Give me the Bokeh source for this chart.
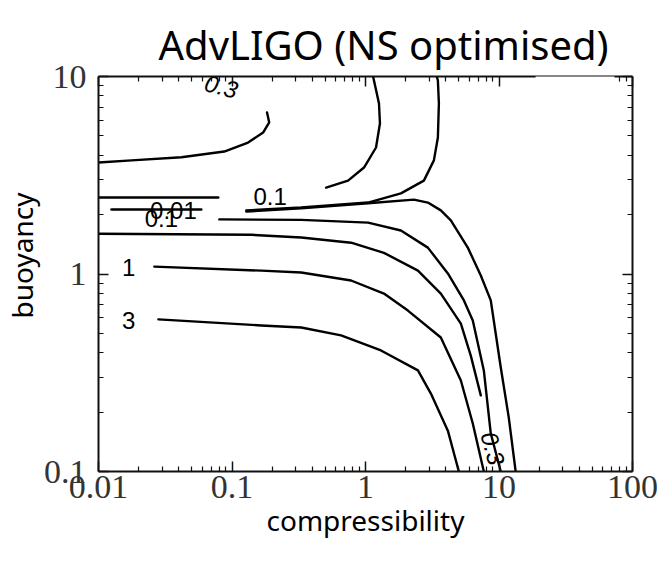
from bokeh.plotting import figure
from bokeh.models import LogAxis, FixedTicker, BoxAnnotation, Range1d, Title
from bokeh.core.properties import value
from bokeh.embed import file_html
from bokeh.resources import INLINE

# ---- tick values / labels ----
x_ticks = [0.01, 0.1, 1, 10, 100]
x_tick_labels = ["0.01", "0.1", "1", "10", "100"]
y_ticks = [0.1, 1, 10]
y_tick_labels = ["0.1", "1", "10"]

# ---- contour lines (compressibility, buoyancy) ----
top03_x = [0.01, 0.0177, 0.0418, 0.0875, 0.132, 0.171, 0.190, 0.183]
top03_y = [3.67, 3.76, 3.90, 4.17, 4.63, 5.20, 5.85, 6.57]

mid03_x = [0.507, 0.740, 0.975, 1.199, 1.283, 1.262, 1.140]
mid03_y = [2.74, 2.97, 3.46, 4.37, 5.78, 7.30, 10.0]

up01_x = [0.128, 0.330, 1.045, 1.842, 2.737, 3.253, 3.485, 3.546, 3.485, 3.42]
up01_y = [2.10, 2.17, 2.30, 2.56, 2.97, 3.76, 4.91, 7.30, 9.54, 10.0]

down01_x = [0.128, 0.330, 1.045, 2.305, 2.931, 3.667, 4.357, 5.838, 7.306, 8.675, 10.31, 11.83, 13.33]
down01_y = [2.07, 2.15, 2.28, 2.38, 2.30, 2.10, 1.87, 1.36, 0.983, 0.735, 0.336, 0.188, 0.1]

c01_x = [0.0803, 0.330, 1.045, 1.842, 2.931, 4.139, 5.46, 6.363, 7.698, 8.675, 10.31]
c01_y = [1.89, 1.88, 1.82, 1.66, 1.36, 1.006, 0.735, 0.582, 0.325, 0.156, 0.1]

c03_x = [0.01, 0.139, 0.330, 0.780, 1.374, 2.470, 3.667, 5.180, 6.146, 7.306]
c03_y = [1.60, 1.58, 1.53, 1.44, 1.28, 1.04, 0.796, 0.561, 0.386, 0.243]

c1_x = [0.0262, 0.166, 0.330, 0.780, 1.374, 2.078, 3.667, 5.180, 6.363, 7.698]
c1_y = [1.09, 1.04, 1.018, 0.927, 0.796, 0.653, 0.477, 0.289, 0.175, 0.1]

c3_x = [0.0281, 0.166, 0.330, 0.656, 1.306, 2.470, 3.089, 4.139, 5.003]
c3_y = [0.589, 0.549, 0.536, 0.489, 0.410, 0.325, 0.248, 0.161, 0.1]

short1_x = [0.01, 0.0789]
short1_y = [2.44, 2.44]
short2_x = [0.0125, 0.0589]
short2_y = [2.12, 2.12]

lines = [
    (top03_x, top03_y), (mid03_x, mid03_y), (up01_x, up01_y), (down01_x, down01_y),
    (c01_x, c01_y), (c03_x, c03_y), (c1_x, c1_y), (c3_x, c3_y),
    (short1_x, short1_y), (short2_x, short2_y),
]

# ---- contour labels ----
lab_text = ["0.01", "0.1", "0.1", "1", "3"]
lab_x = [0.0364, 0.0296, 0.193, 0.0168, 0.0168]
lab_y = [2.10, 1.91, 2.47, 1.08, 0.582]
ital_text = ["0.3", "0.3"]
ital_x = [0.0832, 8.98]
ital_y = [8.90, 0.131]
ital_angle = [-15, -75]

p = figure(width=659, height=562, x_axis_type="log", y_axis_type="log",
           x_range=Range1d(0.01, 100), y_range=Range1d(0.1, 10),
           output_backend="svg", toolbar_location=None,
           min_border_left=97, min_border_right=27, min_border_top=76, min_border_bottom=91,
           title="AdvLIGO (NS optimised)")
p.grid.visible = False
p.outline_line_color = None
p.background_fill_color = "white"
p.border_fill_color = "white"

p.title.text_font = "Noto Sans"
p.title.text_font_size = "40px"
p.title.text_font_style = "normal"
p.title.align = "left"
p.title.offset = 60
p.title.text_color = "black"


def minor_of(ticks):
    out = []
    for t in ticks[:-1]:
        out += [t * k for k in range(2, 10)]
    return out


def style(ax, ticks, labels, show):
    ax.ticker = FixedTicker(ticks=ticks, minor_ticks=minor_of(ticks))
    ax.major_tick_in = 10
    ax.major_tick_out = 0
    ax.minor_tick_in = 5
    ax.minor_tick_out = 0
    ax.axis_line_width = 2
    ax.axis_line_color = "#111"
    ax.major_tick_line_color = "#111"
    ax.minor_tick_line_color = "#111"
    ax.major_tick_line_width = 1.5
    ax.minor_tick_line_width = 1.2
    ax.major_label_overrides = {t: l for t, l in zip(ticks, labels)}
    if show:
        ax.major_label_text_font = "Liberation Serif"
        ax.major_label_text_font_size = "34px"
        ax.major_label_text_color = "#333"
    else:
        ax.major_label_text_font_size = "2px"
        ax.major_label_text_alpha = 0.0
        ax.major_label_standoff = 0


bx = p.below[0]
ly = p.left[0]
style(bx, x_ticks, x_tick_labels, True)
style(ly, y_ticks, y_tick_labels, True)
bx.major_label_standoff = 4
ly.major_label_standoff = 12
bx.axis_label = "compressibility"
bx.axis_label_text_font = "Noto Sans"
bx.axis_label_text_font_size = "28px"
bx.axis_label_text_font_style = "normal"
bx.axis_label_text_color = "black"
bx.axis_label_standoff = 0

ta = LogAxis()
ra = LogAxis()
style(ta, x_ticks, x_tick_labels, False)
style(ra, y_ticks, y_tick_labels, False)
p.add_layout(ta, "above")
p.add_layout(ra, "right")

ylab = Title(text="buoyancy", align="left", offset=153, standoff=0, text_font="Noto Sans",
             text_font_size="28px", text_font_style="normal", text_color="black")
p.add_layout(ylab, "left")

for xs, ys in lines:
    p.line(xs, ys, line_color="black", line_width=2.4, line_join="round", line_cap="round")

p.text(lab_x, lab_y, text=lab_text, text_align="center", text_baseline="middle",
       text_font=value("Liberation Sans"), text_font_size="24px", text_color="black")
p.text(ital_x, ital_y, text=ital_text, angle=ital_angle, angle_units="deg",
       text_align="center", text_baseline="middle",
       text_font=value("Liberation Sans"), text_font_size="24px",
       text_font_style="italic", text_color="black")

# white patch hiding part of the top border, as in the picture
p.add_layout(BoxAnnotation(left=18.8, right=73.3, bottom=8.9, top=12,
                           fill_color="white", fill_alpha=1.0, line_color=None, level="overlay"))

open("out.html", "w").write(file_html(p, INLINE))
